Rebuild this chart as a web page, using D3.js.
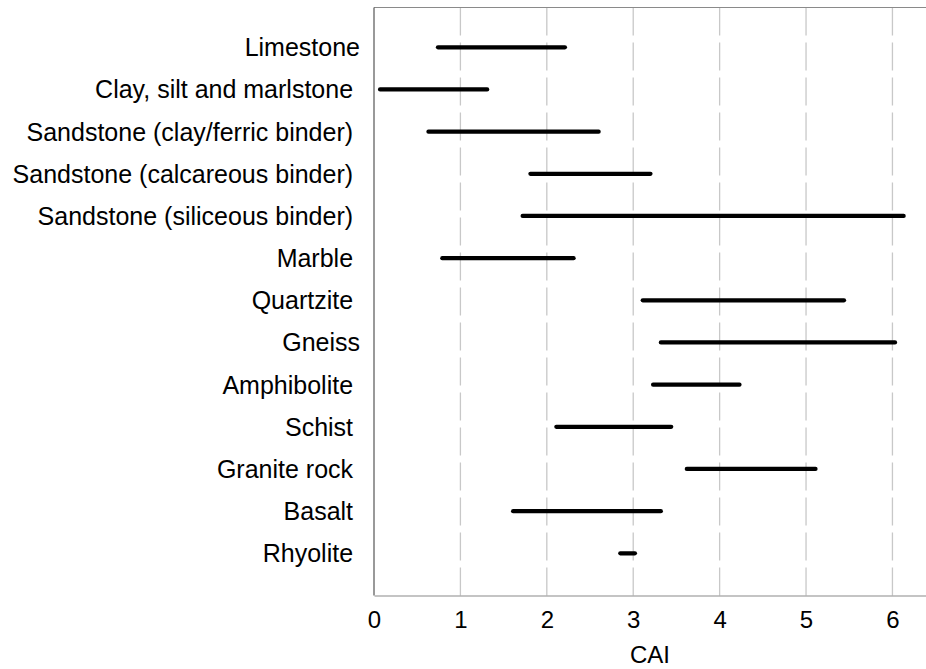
<!DOCTYPE html>
<html>
<head>
<meta charset="utf-8">
<script src="https://cdn.jsdelivr.net/npm/d3@7"></script>
<style>
  html, body { margin: 0; padding: 0; background: #fff; }
  svg { display: block; font-family: "Liberation Sans", Arial, sans-serif; }
  .cat { white-space: pre; }
</style>
</head>
<body>
<svg id="chart" width="926" height="669"></svg>
<script>
const categories = [
  "Limestone",
  "Clay, silt and marlstone ",
  "Sandstone (clay/ferric binder) ",
  "Sandstone (calcareous binder) ",
  "Sandstone (siliceous binder) ",
  "Marble ",
  "Quartzite ",
  "Gneiss",
  "Amphibolite ",
  "Schist ",
  "Granite rock ",
  "Basalt ",
  "Rhyolite "
];
const minValues = [0.74, 0.07, 0.63, 1.81, 1.72, 0.79, 3.11, 3.32, 3.23, 2.11, 3.62, 1.61, 2.85];
const maxValues = [2.21, 1.31, 2.60, 3.20, 6.13, 2.31, 5.44, 6.03, 4.23, 3.44, 5.11, 3.32, 3.02];
const xTicks = [0, 1, 2, 3, 4, 5, 6];
const xLabel = "CAI";

const svg = d3.select("#chart");
const plot = { left: 374, right: 927, top: 7.5, bottom: 595.5 };

const x = d3.scaleLinear().domain([0, 6.4]).range([plot.left, plot.right]);
const y = d3.scalePoint().domain(categories).range([47.3, 553.3]);

// gridlines
svg.append("g").selectAll("line").data(xTicks.filter(d => d > 0)).join("line")
  .attr("x1", d => x(d)).attr("x2", d => x(d))
  .attr("y1", plot.top).attr("y2", plot.bottom)
  .attr("stroke", "#c8c8c8").attr("stroke-width", 1.3)
  .attr("stroke-dasharray", "28,7");

// frame: top line, left axis
svg.append("line").attr("x1", plot.left).attr("x2", plot.right)
  .attr("y1", plot.top).attr("y2", plot.top)
  .attr("stroke", "#8a8a8a").attr("stroke-width", 1.2);
svg.append("line").attr("x1", plot.left).attr("x2", plot.left)
  .attr("y1", plot.top).attr("y2", plot.bottom)
  .attr("stroke", "#555").attr("stroke-width", 1.2);

// x axis
const xAxis = svg.append("g")
  .attr("transform", `translate(0,${plot.bottom})`)
  .call(d3.axisBottom(x).tickValues(xTicks).tickFormat(d3.format("d"))
    .tickSizeInner(0).tickSizeOuter(0).tickPadding(15));
xAxis.select(".domain").attr("stroke", "#8a8a8a").attr("stroke-width", 1.2);
xAxis.selectAll("text").attr("font-size", 24).attr("fill", "#000")
  .attr("font-family", "Liberation Sans, Arial, sans-serif");

svg.append("text")
  .attr("x", (plot.left + 926) / 2).attr("y", 663)
  .attr("text-anchor", "middle").attr("font-size", 24).attr("fill", "#000")
  .text(xLabel);

// category labels
svg.append("g").selectAll("text").data(categories).join("text")
  .attr("class", "cat")
  .attr("x", 360).attr("y", d => y(d))
  .attr("text-anchor", "end").attr("dominant-baseline", "central")
  .attr("font-size", 25).attr("fill", "#000")
  .text(d => d);

// range bars
svg.append("g").selectAll("line").data(categories).join("line")
  .attr("x1", (d, i) => x(minValues[i])).attr("x2", (d, i) => x(maxValues[i]))
  .attr("y1", d => y(d)).attr("y2", d => y(d))
  .attr("stroke", "#000").attr("stroke-width", 4.2).attr("stroke-linecap", "round");
</script>
</body>
</html>
